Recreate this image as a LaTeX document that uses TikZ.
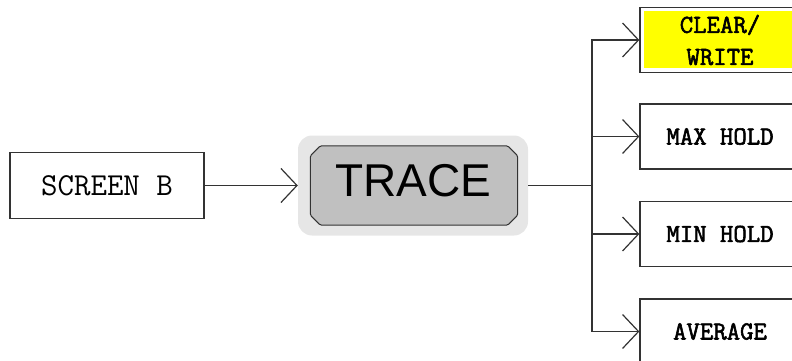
\documentclass[tikz,border=0pt]{standalone}
\usepackage{fontspec}
\setmainfont{Liberation Sans}
\newfontfamily\heavymono{Latin Modern Mono}[FakeBold=2.2]
\usetikzlibrary{arrows.meta}
\definecolor{linegray}{HTML}{333333}
\definecolor{halogray}{HTML}{E6E6E6}
\definecolor{tracegray}{HTML}{C0C0C0}
\definecolor{softyellow}{HTML}{FFFF00}
\tikzset{
  arr/.style={draw=linegray, line width=1.3pt, -{Straight Barb[length=16pt,width=34pt,line width=1.2pt]}},
  conn/.style={draw=linegray, line width=1.3pt},
  menubox/.style={draw=linegray, line width=1.3pt, fill=white, minimum width=160pt, minimum height=65pt, inner sep=0pt,
    font=\heavymono\fontsize{26pt}{32pt}\selectfont, align=center},
  screenbox/.style={draw=linegray, line width=1.3pt, fill=white, minimum width=194pt, minimum height=66pt, inner sep=0pt,
    font=\ttfamily\fontsize{32pt}{34pt}\selectfont},
}
\begin{document}
\begin{tikzpicture}[x=1pt,y=-1pt]
\useasboundingbox (0,0) rectangle (792,361);
% source box
\node[screenbox] (screen) at (107,185.5) {SCREEN B};
% trace halo and box
\node[fill=halogray, rounded corners=14pt, minimum width=230pt, minimum height=100pt, inner sep=0pt] (halo) at (413,185.5) {};
\node[minimum width=207pt, minimum height=79pt, inner sep=0pt] (trace) at (414,185.5) {};
\filldraw[fill=tracegray, draw=linegray, line width=1pt, rounded corners=1.5pt]
  ([xshift=10pt]trace.north west) -- ([xshift=-10pt]trace.north east) -- ([yshift=-10pt]trace.north east)
  -- ([yshift=10pt]trace.south east) -- ([xshift=-10pt]trace.south east) -- ([xshift=10pt]trace.south west)
  -- ([yshift=10pt]trace.south west) -- ([yshift=-10pt]trace.north west) -- cycle;
\node[font=\fontsize{46pt}{50pt}\selectfont, inner sep=0pt] (tracelabel) at (413,180.5) {TRACE};
% menu boxes
\node[menubox, path picture={\fill[softyellow] ([xshift=4pt,yshift=-4pt]path picture bounding box.north west) rectangle ([xshift=-4pt,yshift=4pt]path picture bounding box.south east);}] (c1) at (720,40) {CLEAR/\\WRITE};
\node[menubox] (c2) at (720,136.5) {MAX HOLD};
\node[menubox] (c3) at (720,234) {MIN HOLD};
\node[menubox] (c4) at (720,331.5) {AVERAGE};
% connectors
\coordinate (trunk) at (592,185.5);
\draw[arr] (screen.east) -- (halo.west);
\draw[conn] (halo.east) -- (trunk);
\draw[arr] (trunk) |- (c1.west);
\draw[arr] (trunk) |- (c2.west);
\draw[arr] (trunk) |- (c3.west);
\draw[arr] (trunk) |- (c4.west);
\end{tikzpicture}
\end{document}
